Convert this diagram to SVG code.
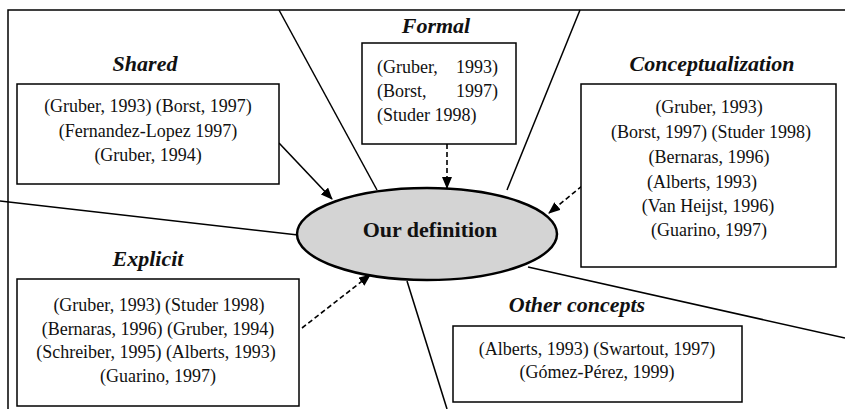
<svg xmlns="http://www.w3.org/2000/svg" width="845" height="409" viewBox="0 0 845 409">
<defs>
<marker id="ah" markerUnits="userSpaceOnUse" markerWidth="12" markerHeight="10" refX="11" refY="5" orient="auto">
<path d="M0,0 L12,5 L0,10 Z" fill="#000"/>
</marker>
<style>
.ln{stroke:#000;stroke-width:1.5;fill:none}
.box{stroke:#000;stroke-width:1.5;fill:#fff}
.ttl{font-family:"Liberation Serif","Times New Roman",serif;font-size:22px;font-weight:bold;font-style:italic;fill:#111;text-anchor:middle}
.txt{font-family:"Liberation Serif","Times New Roman",serif;font-size:18px;fill:#111;text-anchor:middle}
.txl{font-family:"Liberation Serif","Times New Roman",serif;font-size:18px;fill:#111}
.sol{stroke:#000;stroke-width:1.6;fill:none;marker-end:url(#ah)}
.dsh{stroke:#000;stroke-width:1.6;fill:none;stroke-dasharray:5 3;marker-end:url(#ah)}
</style>
</defs>
<rect width="845" height="409" fill="#fff"/>
<g id="frame">
<path class="ln" d="M8,409 V10 H845"/>
<path class="ln" d="M279,10 L377,190"/>
<path class="ln" d="M580,10 L507,190"/>
<path class="ln" d="M0,201 L298,235"/>
<path class="ln" d="M528,267 L845,338"/>
<path class="ln" d="M407,281 L447,409"/>
</g>
<g id="connectors">
<path class="sol" d="M279,143 L332,199"/>
<path class="dsh" d="M447,144 L447,188"/>
<path class="dsh" d="M582,186 L549,213"/>
<path class="dsh" d="M302,328 L370,275"/>
</g>
<g id="our-definition">
<ellipse cx="427" cy="234" rx="130" ry="46" fill="#d4d4d4" stroke="#000" stroke-width="2.5"/>
<text x="430" y="237" style="font-family:'Liberation Serif','Times New Roman',serif;font-size:22px;font-weight:bold;text-anchor:middle;fill:#111">Our definition</text>
</g>
<g id="shared">
<text class="ttl" x="145" y="71">Shared</text>
<rect class="box" x="17" y="84" width="262" height="100"/>
<text class="txt" x="148" y="112">(Gruber, 1993) (Borst, 1997)</text>
<text class="txt" x="148" y="137">(Fernandez-Lopez 1997)</text>
<text class="txt" x="148" y="161">(Gruber, 1994)</text>
</g>
<g id="formal">
<text class="ttl" x="436" y="33">Formal</text>
<rect class="box" x="362" y="43" width="154" height="101"/>
<text class="txl" x="377" y="73">(Gruber,</text>
<text class="txl" x="498" y="73" text-anchor="end">1993)</text>
<text class="txl" x="377" y="97">(Borst,</text>
<text class="txl" x="498" y="97" text-anchor="end">1997)</text>
<text class="txl" x="377" y="121">(Studer 1998)</text>
</g>
<g id="conceptualization">
<text class="ttl" x="712" y="71">Conceptualization</text>
<rect class="box" x="581" y="84" width="255" height="183"/>
<text class="txt" x="709" y="113">(Gruber, 1993)</text>
<text class="txt" x="711" y="138">(Borst, 1997) (Studer 1998)</text>
<text class="txt" x="709" y="163">(Bernaras, 1996)</text>
<text class="txt" x="702" y="188">(Alberts, 1993)</text>
<text class="txt" x="708" y="212">(Van Heijst, 1996)</text>
<text class="txt" x="709" y="236">(Guarino, 1997)</text>
</g>
<g id="explicit">
<text class="ttl" x="148" y="266">Explicit</text>
<rect class="box" x="17" y="279" width="282" height="127"/>
<text class="txt" x="159" y="311">(Gruber, 1993) (Studer 1998)</text>
<text class="txt" x="158" y="335">(Bernaras, 1996) (Gruber, 1994)</text>
<text class="txt" x="156" y="358">(Schreiber, 1995) (Alberts, 1993)</text>
<text class="txt" x="158" y="382">(Guarino, 1997)</text>
</g>
<g id="other-concepts">
<text class="ttl" x="577" y="312">Other concepts</text>
<rect class="box" x="453" y="326" width="289" height="76"/>
<text class="txt" x="597" y="355">(Alberts, 1993) (Swartout, 1997)</text>
<text class="txt" x="597" y="378">(Gómez-Pérez, 1999)</text>
</g>
</svg>
